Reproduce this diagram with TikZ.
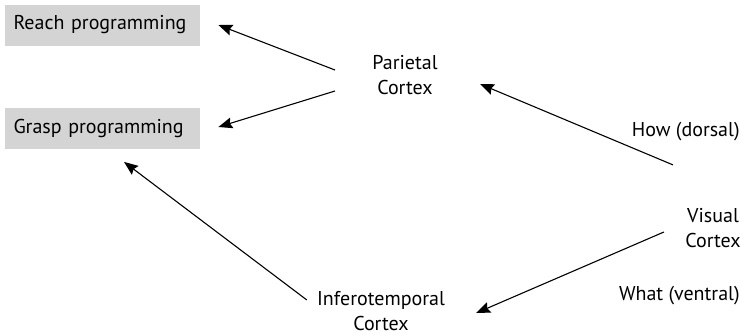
\documentclass[tikz,border=0pt]{standalone}
\usepackage{fontspec}
\setmainfont{PT Sans}
\usetikzlibrary{arrows.meta}

\begin{document}
\begin{tikzpicture}[x=0.5pt,y=-0.5pt,
  font=\fontsize{10}{12.5}\selectfont,
  >={Stealth[length=7pt,width=5.5pt,inset=1pt]},
  box/.style={fill=black!17, text width=89pt, inner xsep=4.25pt, minimum height=20.5pt, align=left},
  area/.style={align=center, inner sep=0pt},
  flow/.style={->, line width=0.55pt}]
\useasboundingbox (0,0) rectangle (741,334);
\node[box] (reach) at (102.5,25) {Reach programming};
\node[box] (grasp) at (102.5,128) {Grasp programming};
\node[area] (parietal) at (405,75) {Parietal\\Cortex};
\node[area] (visual) at (713,228) {Visual\\Cortex};
\node[area] (infero) at (381,311) {Inferotemporal\\Cortex};
\node[anchor=east, inner sep=0pt] (how) at (740,132) {How (dorsal)};
\node[anchor=east, inner sep=0pt] (what) at (740,296) {What (ventral)};
% pathways
\draw[flow] ([shift={(-37,-5)}]parietal.west) -- ([shift={(18,0)}]reach.east);
\draw[flow] ([shift={(-37,16)}]parietal.west) -- ([shift={(18,-1)}]grasp.east);
\draw[flow] ([shift={(-40,-43)}]visual.north) -- ([shift={(42,9)}]parietal.east);
\draw[flow] ([shift={(-21,4)}]visual.west) -- ([shift={(31,2)}]infero.east);
\draw[flow] ([shift={(-10,9)}]infero.north west) -- ([shift={(21.5,13)}]grasp.south);
\end{tikzpicture}
\end{document}
